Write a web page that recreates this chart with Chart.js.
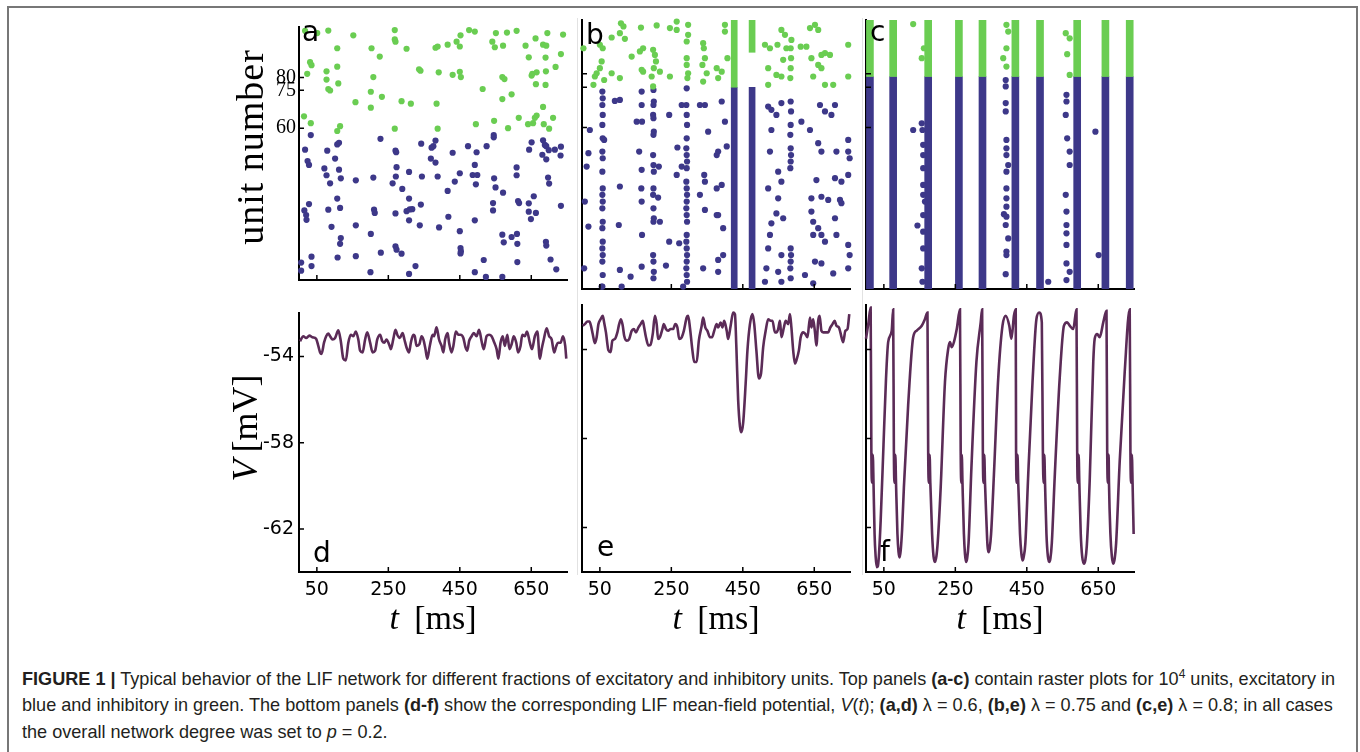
<!DOCTYPE html>
<html>
<head>
<meta charset="utf-8">
<script src="https://cdn.jsdelivr.net/npm/chart.js@4.4.0/dist/chart.umd.min.js"></script>
<style>
body{margin:0;background:#fff;width:1360px;height:752px;overflow:hidden;position:relative;font-family:"Liberation Sans",Arial,sans-serif}
.frame{position:absolute;left:7px;top:6px;width:1347px;height:800px;border:2px solid #777}
canvas{position:absolute}
.sep{position:absolute;width:1px;background:#e2e2e2}
.let{position:absolute;font-family:"DejaVu Sans",sans-serif;font-size:28px;line-height:28px;color:#000}
.ttl{position:absolute;font-family:"Liberation Serif",serif;white-space:nowrap;color:#000;transform:translate(-50%,-50%)}
.rot{transform:translate(-50%,-50%) rotate(-90deg)}
.cap{position:absolute;left:22px;top:666px;font-size:18.1px;line-height:26.3px;color:#231f20;white-space:nowrap}
</style>
</head>
<body>
<div class="frame"></div>
<div class="sep" style="left:577px;top:18px;height:557px"></div>
<div class="sep" style="left:862px;top:18px;height:557px"></div>

<canvas id="ca"></canvas><canvas id="cb"></canvas><canvas id="cc"></canvas>
<canvas id="cd"></canvas><canvas id="ce"></canvas><canvas id="cf"></canvas>

<div class="let" style="left:302px;top:18px">a</div>
<div class="let" style="left:586px;top:21px">b</div>
<div class="let" style="left:870px;top:18px">c</div>
<div class="let" style="left:313px;top:539px">d</div>
<div class="let" style="left:597px;top:533px">e</div>
<div class="let" style="left:880px;top:538px">f</div>

<div class="ttl rot" style="left:250px;top:147px;font-size:38px;letter-spacing:1px">unit number</div>
<div class="ttl rot" style="left:245px;top:428px;font-size:36px"><i>V</i>&thinsp;[mV]</div>
<div class="ttl" style="left:433px;top:618px;font-size:34px"><i>t</i>&nbsp;&thinsp;[ms]</div>
<div class="ttl" style="left:716px;top:618px;font-size:34px"><i>t</i>&nbsp;&thinsp;[ms]</div>
<div class="ttl" style="left:1000px;top:618px;font-size:34px"><i>t</i>&nbsp;&thinsp;[ms]</div>

<div class="cap"><b>FIGURE 1 |</b> Typical behavior of the LIF network for different fractions of excitatory and inhibitory units. Top panels <b>(a-c)</b> contain raster plots for 10<sup style="font-size:12px;line-height:0">4</sup> units, excitatory in<br>blue and inhibitory in green. The bottom panels <b>(d-f)</b> show the corresponding LIF mean-field potential, <i>V</i>(<i>t</i>); <b>(a,d)</b> λ = 0.6, <b>(b,e)</b> λ = 0.75 and <b>(c,e)</b> λ = 0.8; in all cases<br>the overall network degree was set to <i>p</i> = 0.2.</div>

<script>
// time axis (ms) and tick values
const tMin = 0, tMax = 750;
const tTicks = [50, 250, 450, 650];
const unitTicks = [60, 75, 80];
const vTicks = [-54, -58, -62];
const vMin = -64, vMax = -52;

const BLUE = '#3d3889';
const GREEN = '#6acd52';
const PURPLE = '#5b2b57';

// panel a (lambda = 0.6): [t ms, unit]
const aExc = [[33,57.3],[17,51.5],[24,47],[28,45.5],[79,51.1],[107,53.6],[112,54.2],[101,48],[71,44.1],[77,41.4],[112,43.6],[117,40.2],[87,38.2],[159,39.4],[208,40.5],[228,55.8],[270,51.1],[272,50.5],[273,44.6],[271,40.9],[262,38.2],[289,36],[308,42.7],[344,40.9],[342,53.9],[371,52.3],[376,52.9],[382,55.1],[369,48],[382,46.4],[388,40.9],[430,50.3],[450,42.2],[436,38.9],[416,35.2],[473,52.9],[497,50.5],[492,45.5],[486,41.5],[499,41.5],[495,37.8],[525,52.9],[545,57.3],[545,56.4],[546,40.2],[571,34.5],[609,44.5],[609,41.4],[644,51.5],[651,54.4],[683,55.2],[688,53.4],[692,52.9],[681,49.5],[692,47.7],[699,51.3],[716,51.5],[733,52.7],[732,49.2],[697,40.5],[700,38.1],[550,36.6],[28,30],[15,27.5],[20,25.7],[21,23.8],[82,27.8],[107,32.2],[115,28.5],[210,27.8],[212,26.5],[270,26.3],[301,27.2],[310,27.9],[317,28],[308,32.2],[341,29.8],[308,23.6],[338,21.6],[392,20.8],[418,25],[450,19.3],[492,23.6],[543,30.4],[543,27.5],[613,31.2],[616,30.4],[643,30.3],[643,27],[663,26.5],[649,24.1],[657,33.1],[733,29.3],[91,21],[159,21.6],[201,18.2],[117,16.6],[115,14.3],[270,13.3],[273,12],[287,10.4],[229,10.8],[159,9.4],[108,8.9],[35,9.2],[35,5.5],[6,6.9],[6,3.7],[200,3.1],[308,2.4],[326,5.5],[452,12.6],[453,11.4],[452,10.5],[492,3.1],[523,1.2],[569,1.2],[517,7.9],[569,17.9],[595,17],[610,18.2],[573,14.9],[611,14.3],[611,7.1],[691,15.1],[692,13.6],[704,8.1],[720,4.2]];
const aInh = [[17,98.5],[51,97.6],[82,98.6],[152,96.7],[268,98.8],[268,95.1],[270,94.2],[301,91.4],[203,91.6],[226,88.3],[107,91.6],[31,86.1],[35,84.9],[23,81.5],[77,82.5],[77,79.2],[107,84.3],[110,77.7],[82,75.5],[87,74.9],[208,80.2],[201,74.4],[232,72.4],[158,70.3],[201,68.1],[287,70.7],[313,69.7],[336,83.3],[340,82.7],[382,91.8],[388,92.3],[416,93],[441,94.2],[452,96.7],[450,92.3],[476,98.8],[492,98.2],[551,97.6],[582,97.8],[609,98.5],[541,94.2],[548,92],[571,92.6],[430,81.1],[450,82.3],[453,80.2],[391,82.1],[385,69.7],[514,75.5],[569,80.2],[575,79.4],[595,73.4],[569,71.5],[634,92.6],[662,95.5],[695,97.6],[739,97],[683,93],[692,92.6],[643,88],[690,87.9],[733,89.3],[691,82.5],[718,84.2],[653,81.5],[665,82.1],[651,80.8],[690,77.1],[663,77.4],[683,68.4],[665,65],[660,64.1],[655,62],[641,61.6],[685,61.6],[700,59.8],[711,64.1],[615,64.1],[585,60],[546,62.9],[495,61.6],[388,59.8],[268,59.8],[115,60.8],[107,58.9],[33,62],[14,64.7]];

// panel b (lambda = 0.75)
const bExc = [[57,73.4],[58,70.9],[57,68.4],[58,64.7],[57,61],[58,56],[57,51.1],[58,48.6],[57,43.6],[58,37.4],[57,35],[58,32.5],[57,30],[58,25],[57,22.6],[58,17.6],[57,15.1],[58,12.6],[57,10.2],[58,5.2],[57,0.9],
[200,74],[201,69.7],[200,68.4],[199,64.7],[200,63.5],[201,58.5],[200,57.3],[199,49.8],[200,46.1],[201,43.6],[200,37.4],[199,35],[200,30],[201,26.3],[200,25],[199,12.6],[200,10.2],[201,6.4],[200,4],
[293,74.6],[292,68.4],[293,64.7],[294,61],[293,56],[292,52.3],[293,49.8],[294,47.4],[293,44.9],[292,39.9],[293,37.4],[294,35],[293,32.5],[292,30],[293,27.5],[294,25],[293,20.1],[292,17.6],[293,15.1],[294,12.6],[293,10.2],[292,7.7],[293,5.2],[294,2.7],
[167,73.4],[167,68.4],[168,62.2],[167,44.3],[166,37.4],[167,32.5],[168,20.1],[167,8.3],
[22,59.1],[18,50.5],[13,45.5],[8,32.5],[18,23.2],[6,7.7],[62,55.4],[92,69.9],[106,70.3],[106,38.1],[103,23.8],[106,7.1],[136,4.6],[160,51.1],[153,62.2],[244,64.7],[215,45.5],[213,34],[218,25],[244,17.6],[235,8.7],[267,52.6],[265,42.4],[279,68.4],[279,45.5],[272,17],[330,68.4],[344,68.4],[353,58.5],[342,42.4],[344,39.9],[330,35],[344,29.4],[339,7.7],[377,49.8],[377,37.4],[377,27.5],[55,0.9],[111,0.9],[283,0.9],
[391,69.7],[400,62.2],[381,51.1],[405,53],[391,38.7],[381,27.5],[395,22.6],[381,10.8],[395,12.6],[381,6.4],[521,67.8],[530,66.6],[544,64.7],[558,69.1],[530,59.1],[526,51.1],[521,37.4],[549,43.6],[558,39.9],[549,33.7],[544,28.1],[563,26.3],[530,24.4],[526,20.1],[521,15.1],[516,7.7],[512,2.7],[558,12.6],[549,6.4],[558,2.7],[614,62.2],[638,59.1],[642,33.7],[642,28.8],[647,25],[661,22.6],[670,20.1],[647,20.1],[652,10.2],[670,9.5],[624,5.2],[647,2.1],[666,68.4],[661,54.2],[670,51.1],[656,40.5],[670,34.3],[689,33.1],[708,26.3],[712,20.1],[680,17.6],[680,66],[698,64.7],[708,68.4],[712,51.1],[708,41.2],[726,39.9],[722,33.1],[726,31.9],[703,5.8],[745,55.4],[745,51.1],[745,42.4],[749,48.6],[745,16.4],[745,7.7],[749,12.6],
[584,69.7],[585,66],[584,61],[583,57.3],[584,52.3],[585,49.8],[584,47.4],[583,44.9],[584,15.1],[585,12.6],[584,10.2],[583,7.7],[584,4]];
const bInh = [[4,89.5],[50,90.8],[58,89.5],[83,93.5],[106,95.1],[109,98.8],[120,93],[116,97.6],[165,97.2],[209,98],[246,97],[265,96.3],[265,99.4],[297,98.2],[297,94.5],[293,92],[139,86.4],[162,88.3],[171,89.5],[199,88.9],[204,87],[207,84.6],[201,82.1],[218,80.8],[246,79],[195,79],[171,80.8],[167,81.5],[106,78.4],[83,80.2],[55,84.6],[50,82.1],[41,80.2],[36,79],[32,75.9],[62,77.7],[293,85.8],[293,83.3],[297,80.2],[295,78.4],[339,91.4],[341,89.5],[344,85.8],[337,83.3],[349,80.2],[339,77.1],[377,82.1],[199,75.3],
[391,80.8],[381,78.4],[407,85.8],[400,98.2],[400,95.7],[512,90.8],[526,89.5],[547,90.8],[558,96.3],[568,94.5],[586,92.6],[572,89.5],[612,90.1],[628,90.1],[638,97],[642,85.8],[652,98.2],[661,96.3],[670,87],[680,87.7],[694,87],[661,83.3],[670,82.1],[647,79],[680,75.9],[703,75.9],[745,90.8],[745,79],[521,82.1],[521,75.9],[544,79.6],[558,79],[563,85.2],[584,89.5],[585,85.8],[584,82.1],[583,78.4]];
// dense population bursts in b: [t, exc top, inh bottom, inh top]
const bBursts = [[426,75,75,100],[476,75,88,100]];

// panel c (lambda = 0.8)
const cBurstT = [11,76,174,260,326,418,487,591,670,738];
const cBound = 79;
const cExc = [[391,77.7],[391,75.3],[391,69.1],[391,66],[393,55.4],[393,52.3],[393,49.8],[398,46.1],[393,43.6],[393,37.4],[393,33.7],[393,30.6],[386,27.8],[393,26.9],[391,23.8],[398,18.8],[393,13.9],[393,12.6],[391,5.5],[132,59.1],[156,61.6],[158,59.1],[160,53.6],[160,49.8],[160,44.9],[160,38.7],[160,35],[165,32.5],[160,27.5],[160,21.3],[160,15.1],[156,7.7],[158,2.7],[144,23.6],[561,72.2],[561,69.7],[559,64.7],[563,56],[570,51.1],[570,46.1],[559,35],[561,28.8],[561,23.8],[561,20.7],[561,16.4],[561,9.5],[570,6.4],[561,3.3],[642,58.5],[651,12.6],[510,2.7]];
const cInh = [[132,98.5],[393,98.2],[398,95.7],[393,89.5],[384,85.8],[393,82.7],[559,95.1],[570,93.2],[563,87.3],[570,79.6],[156,85.8],[162,89.5]];

// mean-field potential V(t): [t ms, mV]
const dLine = [[3,-53.29],[12,-53.06],[20,-53.14],[29,-53.03],[38,-53.11],[48,-53.18],[54,-53.51],[59,-53.81],[63,-53.88],[70,-53.36],[76,-53.06],[82,-52.94],[87,-53.06],[94,-53.21],[101,-53.14],[110,-52.79],[117,-53.29],[124,-54.1],[131,-54.18],[138,-53.36],[145,-52.99],[152,-53.06],[159,-52.84],[166,-53.21],[171,-53.73],[178,-53.81],[185,-53.21],[191,-52.88],[199,-53.36],[206,-53.81],[213,-53.73],[219,-53.21],[227,-52.99],[233,-53.29],[239,-53.36],[245,-53.21],[253,-53.48],[257,-53.66],[264,-53.18],[270,-52.76],[275,-52.99],[282,-53.14],[290,-52.91],[295,-53.21],[301,-53.58],[308,-53.81],[313,-53.36],[320,-52.99],[324,-53.06],[329,-53.51],[337,-53.43],[343,-53.06],[348,-53.21],[354,-53.66],[359,-54.1],[366,-53.51],[374,-52.99],[378,-53.06],[385,-52.65],[392,-53.21],[399,-53.51],[404,-53.81],[409,-53.21],[416,-52.91],[420,-53.36],[427,-53.81],[432,-53.51],[439,-52.84],[446,-52.99],[452,-52.99],[460,-53.14],[466,-53.58],[471,-53.73],[476,-53.29],[483,-53.06],[489,-52.91],[497,-53.06],[504,-52.76],[511,-53.29],[517,-53.66],[525,-53.06],[532,-52.99],[539,-53.06],[545,-53.29],[553,-53.66],[558,-54.1],[564,-53.36],[570,-53.06],[576,-53.51],[583,-52.99],[589,-53.66],[595,-53.43],[601,-53.06],[608,-53.36],[613,-53.81],[620,-53.51],[625,-52.99],[632,-53.06],[638,-52.84],[646,-53.36],[652,-53.66],[660,-53.06],[667,-52.84],[674,-54.1],[679,-53.66],[685,-53.21],[693,-52.69],[700,-53.06],[707,-53.21],[714,-53.81],[720,-53.51],[725,-53.36],[732,-53.36],[739,-53.06],[745,-53.51],[748,-54.1]];
const eLine = [[2,-52.93],[8,-52.86],[15,-52.74],[21,-52.74],[25,-52.93],[30,-53.3],[36,-53.72],[41,-53.45],[46,-52.86],[52,-52.64],[58,-52.49],[62,-52.79],[67,-53.23],[74,-54.04],[80,-54.12],[85,-53.6],[92,-53.53],[99,-53.23],[104,-52.86],[109,-52.64],[114,-52.93],[118,-53.38],[125,-53.6],[132,-53.53],[139,-53.16],[145,-53.08],[151,-53.23],[158,-53.01],[164,-52.86],[170,-52.71],[174,-53.01],[179,-53.45],[186,-53.82],[192,-53.78],[198,-53.3],[204,-52.49],[209,-52.86],[213,-53.53],[218,-53.45],[225,-53.08],[229,-52.86],[235,-53.08],[241,-53.16],[248,-53.08],[255,-53.08],[261,-52.86],[267,-53.01],[272,-53.53],[279,-53.45],[285,-53.16],[293,-52.56],[297,-52.49],[302,-53.01],[309,-54.04],[314,-54.56],[321,-54.56],[327,-53.6],[335,-52.93],[339,-52.56],[345,-53.01],[351,-53.16],[358,-53.45],[364,-53.45],[370,-53.16],[377,-52.86],[381,-53.01],[388,-52.79],[393,-53.01],[398,-52.71],[405,-53.16],[409,-53.53],[416,-52.93],[423,-52.34],[428,-52.41],[432,-53.9],[437,-56.27],[442,-57.45],[446,-57.72],[451,-57.3],[458,-55.53],[463,-54.04],[470,-52.86],[477,-52.41],[482,-52.86],[488,-54.04],[495,-55.3],[501,-55.08],[507,-53.9],[514,-53.16],[521,-52.64],[528,-52.71],[533,-52.71],[540,-53.23],[544,-53.23],[549,-53.08],[554,-52.71],[558,-53.45],[565,-53.01],[570,-52.71],[577,-52.86],[582,-52.41],[586,-53.01],[591,-54.04],[596,-54.64],[600,-54.49],[607,-54.04],[612,-53.45],[619,-53.23],[625,-53.3],[631,-53.45],[638,-52.56],[642,-53.01],[647,-52.64],[652,-53.23],[656,-53.82],[661,-52.71],[665,-52.49],[670,-53.16],[675,-53.23],[682,-53.23],[689,-53.23],[695,-53.01],[701,-52.86],[707,-52.71],[712,-52.93],[719,-53.01],[723,-53.23],[731,-53.67],[737,-53.16],[743,-53.08],[748,-52.41]];
const fLine = [[0,-53.52],[7,-52.78],[13,-52.11],[15,-58.58],[17,-59.99],[19,-58.73],[21,-59.99],[24,-62.29],[27,-63.3],[30,-63.78],[33,-63.75],[36,-63.3],[41,-61.7],[49,-58.28],[56,-55.31],[62,-53.67],[72,-53.15],[76,-52.19],[78,-58.58],[80,-59.99],[82,-58.73],[84,-59.99],[88,-62.29],[91,-63.1],[94,-63.35],[97,-63.05],[101,-62.1],[106,-60.21],[118,-56.5],[132,-53.45],[142,-53.15],[156,-52.93],[165,-52.63],[172,-52.34],[174,-58.58],[176,-59.99],[178,-58.73],[180,-59.99],[185,-62.29],[189,-63.3],[193,-63.55],[197,-63.3],[201,-62.6],[209,-60.21],[221,-55.46],[230,-53.97],[235,-53.67],[240,-53.9],[246,-53.67],[254,-53.08],[263,-52.19],[265,-58.58],[267,-59.99],[268,-58.73],[270,-59.99],[274,-62.29],[277,-63.2],[280,-63.55],[283,-63.4],[287,-62.7],[295,-59.32],[309,-54.56],[321,-52.78],[325,-52.19],[327,-58.58],[329,-59.99],[331,-58.73],[333,-59.99],[337,-61.7],[340,-62.8],[343,-63.11],[346,-62.95],[350,-62.3],[358,-59.62],[370,-55.31],[382,-52.93],[391,-52.48],[401,-52.93],[407,-53.52],[414,-52.48],[419,-52.19],[420,-58.58],[422,-59.99],[424,-58.73],[426,-59.99],[431,-62.29],[435,-63.2],[438,-63.48],[441,-63.35],[446,-62.7],[454,-59.62],[466,-55.46],[477,-52.63],[485,-52.34],[492,-52.78],[495,-58.58],[497,-59.99],[499,-58.73],[501,-59.99],[505,-62.29],[509,-63.3],[513,-63.55],[516,-63.4],[520,-62.7],[528,-59.77],[542,-55.31],[554,-52.93],[563,-52.78],[570,-52.93],[580,-53.08],[589,-52.19],[591,-58.58],[593,-59.99],[595,-58.73],[597,-59.99],[601,-62.29],[605,-63.3],[610,-63.63],[614,-63.45],[618,-62.8],[626,-59.91],[636,-54.56],[640,-53.52],[647,-53.3],[654,-53.45],[664,-52.78],[673,-52.26],[675,-58.58],[677,-59.99],[679,-58.73],[680,-59.99],[684,-62.29],[688,-63.3],[692,-63.63],[696,-63.4],[700,-62.7],[710,-59.02],[724,-55.01],[738,-52.19],[740,-58.58],[742,-59.99],[744,-58.73],[746,-59.99],[749,-62.29]];

// small tick marks drawn inward, as in the original
const inwardTicks = {
  id: 'inwardTicks',
  afterDraw(chart) {
    const {ctx, chartArea: a, scales: {x, y}} = chart;
    ctx.save();
    ctx.strokeStyle = '#000';
    ctx.lineWidth = 1.5;
    ctx.beginPath();
    x.ticks.forEach(t => { const p = x.getPixelForValue(t.value); ctx.moveTo(p, a.bottom); ctx.lineTo(p, a.bottom - 5); });
    y.ticks.forEach(t => { const p = y.getPixelForValue(t.value); ctx.moveTo(a.left, p); ctx.lineTo(a.left + 5, p); });
    ctx.stroke();
    ctx.restore();
  }
};

const W = 268, YW = 44, PT = 8, PR = 10;

function pts(arr) { return arr.map(p => ({x: p[0], y: p[1]})); }

function place(id, L, T, H, xh) {
  const cv = document.getElementById(id);
  cv.width = YW + W + PR;
  cv.height = PT + H + xh;
  cv.style.left = (L - YW) + 'px';
  cv.style.top = (T - PT) + 'px';
  return cv;
}

function axes(opts) {
  return {
    x: {
      type: 'linear', min: tMin, max: tMax, offset: false,
      afterBuildTicks: s => { s.ticks = tTicks.map(v => ({value: v})); },
      afterFit: s => { s.height = opts.xh; },
      grid: {drawOnChartArea: false, drawTicks: false},
      border: {color: '#000', width: 2},
      ticks: {display: opts.xLabels, padding: 7, color: '#000', font: {family: 'DejaVu Sans', size: 19}}
    },
    y: {
      type: 'linear', min: opts.ymin, max: opts.ymax,
      afterBuildTicks: s => { s.ticks = opts.yt.map(v => ({value: v})); },
      afterFit: s => { s.width = YW; },
      grid: {drawOnChartArea: false, drawTicks: false},
      border: {color: '#000', width: 2},
      ticks: {display: opts.yLabels, padding: opts.yPad, color: '#000', font: opts.yFont, autoSkip: false}
    }
  };
}

const base = {
  responsive: false, animation: false, devicePixelRatio: 1,
  plugins: {legend: {display: false}, tooltip: {enabled: false}},
  layout: {padding: {top: PT, right: PR, left: 0, bottom: 0}}
};

function raster(id, L, exc, inh, bars, barW, showY) {
  const cv = place(id, L, 20, 269, 6);
  const ds = [
    {type: 'scatter', data: pts(inh), backgroundColor: GREEN, pointRadius: 3.1, pointBorderWidth: 0, clip: false},
    {type: 'scatter', data: pts(exc), backgroundColor: BLUE, pointRadius: 3.1, pointBorderWidth: 0, clip: false}
  ];
  if (bars) {
    ds.push({type: 'bar', data: bars.map(b => ({x: b[0], y: [b[2], b[3]]})), backgroundColor: GREEN, barThickness: barW, grouped: false});
    ds.push({type: 'bar', data: bars.map(b => ({x: b[0], y: [0, b[1]]})), backgroundColor: BLUE, barThickness: barW, grouped: false});
  }
  new Chart(cv, {
    type: 'scatter',
    data: {datasets: ds},
    options: Object.assign({}, base, {
      scales: axes({xh: 6, xLabels: false, ymin: 0, ymax: 100, yt: unitTicks, yLabels: showY, yPad: 3,
        yFont: {family: 'Liberation Serif', size: 20}})
    }),
    plugins: [inwardTicks]
  });
}

function potential(id, L, line, showY) {
  const cv = place(id, L, 305, 267, 34);
  new Chart(cv, {
    type: 'scatter',
    data: {datasets: [{data: pts(line), showLine: true, borderColor: PURPLE, borderWidth: 2.6,
      pointRadius: 0, cubicInterpolationMode: 'monotone', clip: false}]},
    options: Object.assign({}, base, {
      scales: axes({xh: 34, xLabels: true, ymin: vMin, ymax: vMax, yt: vTicks, yLabels: showY, yPad: 5,
        yFont: {family: 'DejaVu Sans', size: 19}})
    }),
    plugins: [inwardTicks]
  });
}

const cBars = cBurstT.map(t => [t, cBound, cBound, 100]);

raster('ca', 299, aExc, aInh, null, 0, true);
raster('cb', 582, bExc, bInh, bBursts, 6, false);
raster('cc', 866, cExc, cInh, cBars, 7, false);
potential('cd', 299, dLine, true);
potential('ce', 582, eLine, false);
potential('cf', 866, fLine, false);
</script>
</body>
</html>
